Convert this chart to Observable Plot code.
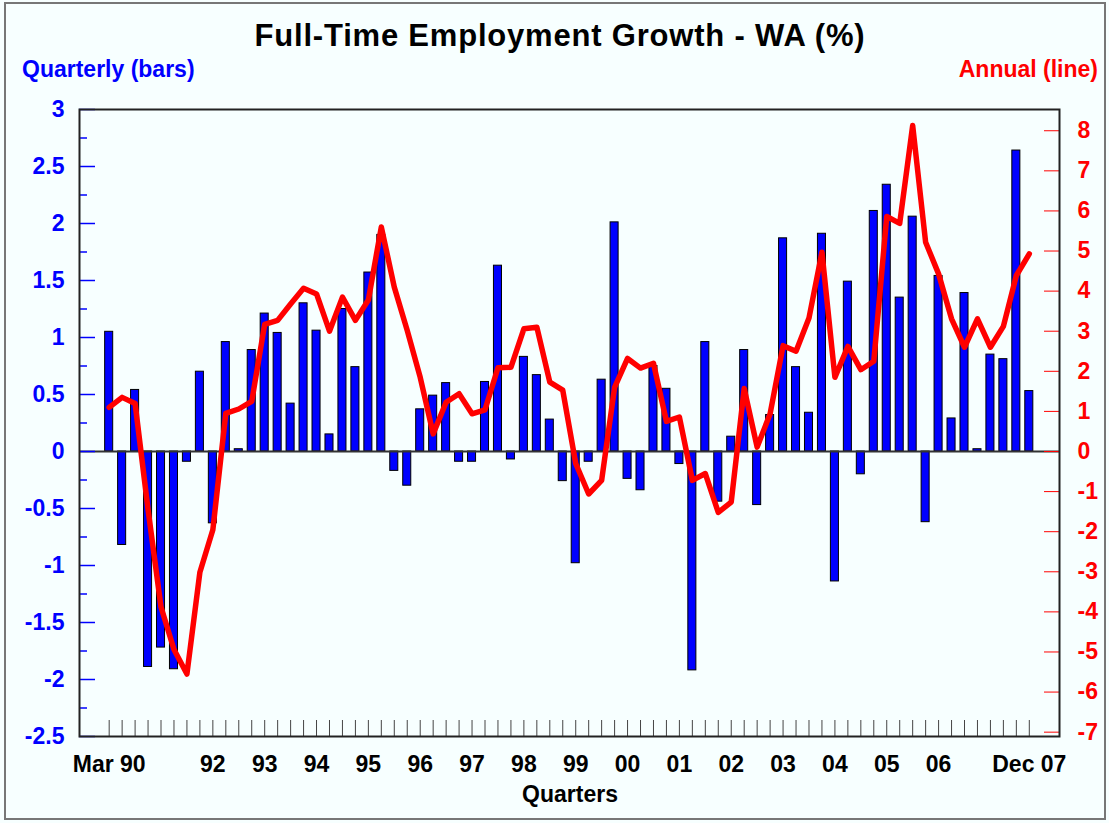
<!DOCTYPE html>
<html><head><meta charset="utf-8">
<script src="https://cdn.jsdelivr.net/npm/d3@7"></script>
<script src="https://cdn.jsdelivr.net/npm/@observablehq/plot@0.6"></script>
<style>
body{margin:0;background:#F7FFFF;}
#wrap{position:relative;width:1109px;height:823px;overflow:hidden;background:#F7FFFF;font-family:"Liberation Sans",Arial,sans-serif;font-weight:bold;}
#border{position:absolute;left:4px;top:2px;width:1102px;height:818px;border:2px solid #777;box-sizing:border-box;}
.t{position:absolute;line-height:1;white-space:nowrap;}
</style></head><body>
<div id="wrap">
 <div id="border"></div>
 <div class="t" style="left:0;width:1120px;text-align:center;top:20px;font-size:31px;letter-spacing:0.8px;color:#000">Full-Time Employment Growth - WA (%)</div>
 <div class="t" style="left:22px;top:58px;font-size:23px;color:#0000FF">Quarterly (bars)</div>
 <div class="t" style="right:11px;top:58px;font-size:23px;color:#FF0000">Annual (line)</div>
 <div id="chart" style="position:absolute;left:0;top:90px"></div>
 <div class="t" style="left:0;width:1140px;text-align:center;top:783px;font-size:23px;color:#000">Quarters</div>
</div>
<script>
// Quarterly change (%), Mar 1990 .. Dec 2007 (left axis, bars)
const quarterly = [
  1.05, -0.82, 0.54, -1.89, -1.72, -1.91, -0.09, 0.70, -0.63, 0.96,
  0.02, 0.89, 1.21, 1.04, 0.42, 1.30, 1.06, 0.15, 1.25, 0.74,
  1.57, 1.90, -0.17, -0.30, 0.37, 0.49, 0.60, -0.09, -0.09, 0.61,
  1.63, -0.07, 0.83, 0.67, 0.28, -0.26, -0.98, -0.09, 0.63, 2.01,
  -0.24, -0.34, 0.75, 0.55, -0.11, -1.92, 0.96, -0.44, 0.13, 0.89,
  -0.47, 0.32, 1.87, 0.74, 0.34, 1.91, -1.14, 1.49, -0.20, 2.11,
  2.34, 1.35, 2.06, -0.62, 1.54, 0.29, 1.39, 0.02, 0.85, 0.81,
  2.64, 0.53
];
// Annual change (%), right axis, line
const annual = [
  1.10, 1.35, 1.20, -1.45, -3.88, -4.94, -5.55, -3.01, -1.95, 0.95,
  1.06, 1.25, 3.17, 3.27, 3.68, 4.07, 3.93, 3.00, 3.85, 3.27,
  3.78, 5.60, 4.10, 3.02, 1.85, 0.44, 1.23, 1.44, 0.94, 1.04,
  2.09, 2.10, 3.06, 3.10, 1.73, 1.53, -0.30, -1.06, -0.72, 1.60,
  2.32, 2.08, 2.20, 0.75, 0.86, -0.72, -0.55, -1.52, -1.26, 1.57,
  0.11, 0.94, 2.64, 2.50, 3.33, 4.97, 1.85, 2.62, 2.04, 2.25,
  5.86, 5.69, 8.13, 5.22, 4.43, 3.31, 2.60, 3.31, 2.60, 3.12,
  4.39, 4.93
];
const xTickIndex = [0, 8, 12, 16, 20, 24, 28, 32, 36, 40, 44, 48, 52, 56, 60, 64, 71];
const xTickLabels = ["Mar 90", "92", "93", "94", "95", "96", "97", "98", "99", "00", "01", "02", "03", "04", "05", "06", "Dec 07"];
const leftTickValues = [-2.5, -2, -1.5, -1, -0.5, 0, 0.5, 1, 1.5, 2, 2.5, 3];
const leftMinorValues = [-2.25, -1.75, -1.25, -0.75, -0.25, 0.25, 0.75, 1.25, 1.75, 2.25, 2.75];
const rightTickValues = [-7, -6, -5, -4, -3, -2, -1, 0, 1, 2, 3, 4, 5, 6, 7, 8];

const data = quarterly.map((q, i) => ({i, q, a: annual[i]}));

const W = 1109, H = 690, mL = 79, mR = 50, mT = 19, mB = 44;
const xDom = [-2.29, 73.33];
const yDom = [-2.5, 3];
const pxX = (W - mL - mR) / (xDom[1] - xDom[0]);
const pxY = (H - mT - mB) / (yDom[1] - yDom[0]);
const k = 0.3517; // annual (right) units -> quarterly (left) units

const chart = Plot.plot({
  width: W, height: H,
  marginTop: mT, marginLeft: mL, marginRight: mR, marginBottom: mB,
  style: {background: "transparent", fontFamily: "Liberation Sans, Arial, sans-serif", fontSize: "23px", fontWeight: "bold"},
  x: {domain: xDom, axis: null},
  y: {domain: yDom, axis: null},
  marks: [
    Plot.rect(data, {x1: d => d.i - 0.31, x2: d => d.i + 0.31, y1: 0, y2: "q", fill: "#0000FF", stroke: "#000", strokeWidth: 1}),
    Plot.ruleY([0], {stroke: "#333", strokeWidth: 2}),
    Plot.lineY(data, {x: "i", y: d => d.a * k, stroke: "#FF0000", strokeWidth: 5.5, strokeLinejoin: "round", strokeLinecap: "round"}),
    Plot.ruleY(leftTickValues, {x1: xDom[0], x2: xDom[0] + 16 / pxX, stroke: "#0000FF", strokeWidth: 1.5}),
    Plot.ruleY(leftMinorValues, {x1: xDom[0], x2: xDom[0] + 8 / pxX, stroke: "#0000FF", strokeWidth: 1.5}),
    Plot.ruleY(rightTickValues.map(v => v * k), {x1: xDom[1] - 15 / pxX, x2: xDom[1], stroke: "#FF0000", strokeWidth: 1}),
    Plot.ruleX(data, {x: "i", y1: yDom[0], y2: yDom[0] + 16 / pxY, stroke: "#444", strokeWidth: 1}),
    Plot.axisY(leftTickValues, {anchor: "left", tickSize: 0, tickPadding: 15, tickFormat: d => String(d), color: "#0000FF", label: null}),
    Plot.axisY(rightTickValues.map(v => v * k), {anchor: "right", tickSize: 0, tickPadding: 18, tickFormat: d => String(Math.round(d / k)), color: "#FF0000", label: null}),
    Plot.axisX(xTickIndex, {anchor: "bottom", tickSize: 0, tickPadding: 19, tickFormat: d => xTickLabels[xTickIndex.indexOf(d)], color: "#000", label: null}),
    Plot.frame({stroke: "#222", strokeWidth: 2})
  ]
});
document.getElementById("chart").appendChild(chart);
</script>
</body></html>
